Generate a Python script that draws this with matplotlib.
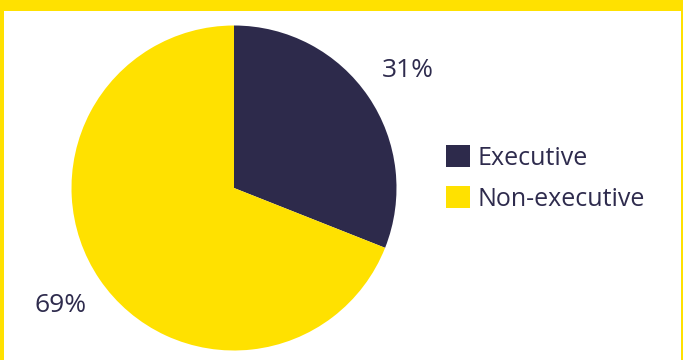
import matplotlib
matplotlib.use("Agg")
import matplotlib.pyplot as plt
from matplotlib.patches import Rectangle

categories = ["Executive", "Non-executive"]
values = [31, 69]
colors = ["#2D2A4B", "#FFE100"]
text_color = "#2E2B4D"

plt.rcParams['font.family'] = ['Open Sans', 'DejaVu Sans']

W, H = 683, 360
fig = plt.figure(figsize=(W / 100, H / 100), dpi=100)
fig.patch.set_facecolor("white")

# frame: top yellow band + thin side borders
yellow = "#FFE100"
fig.patches.append(Rectangle((0, 1 - 11 / H), 1, 11 / H, transform=fig.transFigure,
                             facecolor=yellow, edgecolor="none", zorder=0))
fig.patches.append(Rectangle((0, 0), 3.5 / W, 1, transform=fig.transFigure,
                             facecolor=yellow, edgecolor="none", zorder=0))
fig.patches.append(Rectangle((1 - 2 / W, 0), 2 / W, 1, transform=fig.transFigure,
                             facecolor=yellow, edgecolor="none", zorder=0))

cx, cy, r = 234, 360 - 188, 162.5
ax = fig.add_axes([(cx - r) / W, (cy - r) / H, 2 * r / W, 2 * r / H])
wedges, texts, autotexts = ax.pie(
    values, colors=colors, startangle=90, counterclock=False, radius=1,
    autopct=lambda p: f"{p:.0f}%", pctdistance=1.29,
    textprops=dict(color=text_color, fontsize=19),
    wedgeprops=dict(linewidth=0))
ax.set_xlim(-1, 1)
ax.set_ylim(-1, 1)
ax.axis("off")

fig.legend(wedges, categories, loc="upper left",
           bbox_to_anchor=(446 / W, 1 - 145 / H), frameon=False,
           borderaxespad=0, fontsize=18, handlelength=0.95, handleheight=1.0,
           handletextpad=0.3, labelspacing=0.6, borderpad=0,
           labelcolor=text_color)

fig.savefig("out.png", dpi=100, facecolor="white")
